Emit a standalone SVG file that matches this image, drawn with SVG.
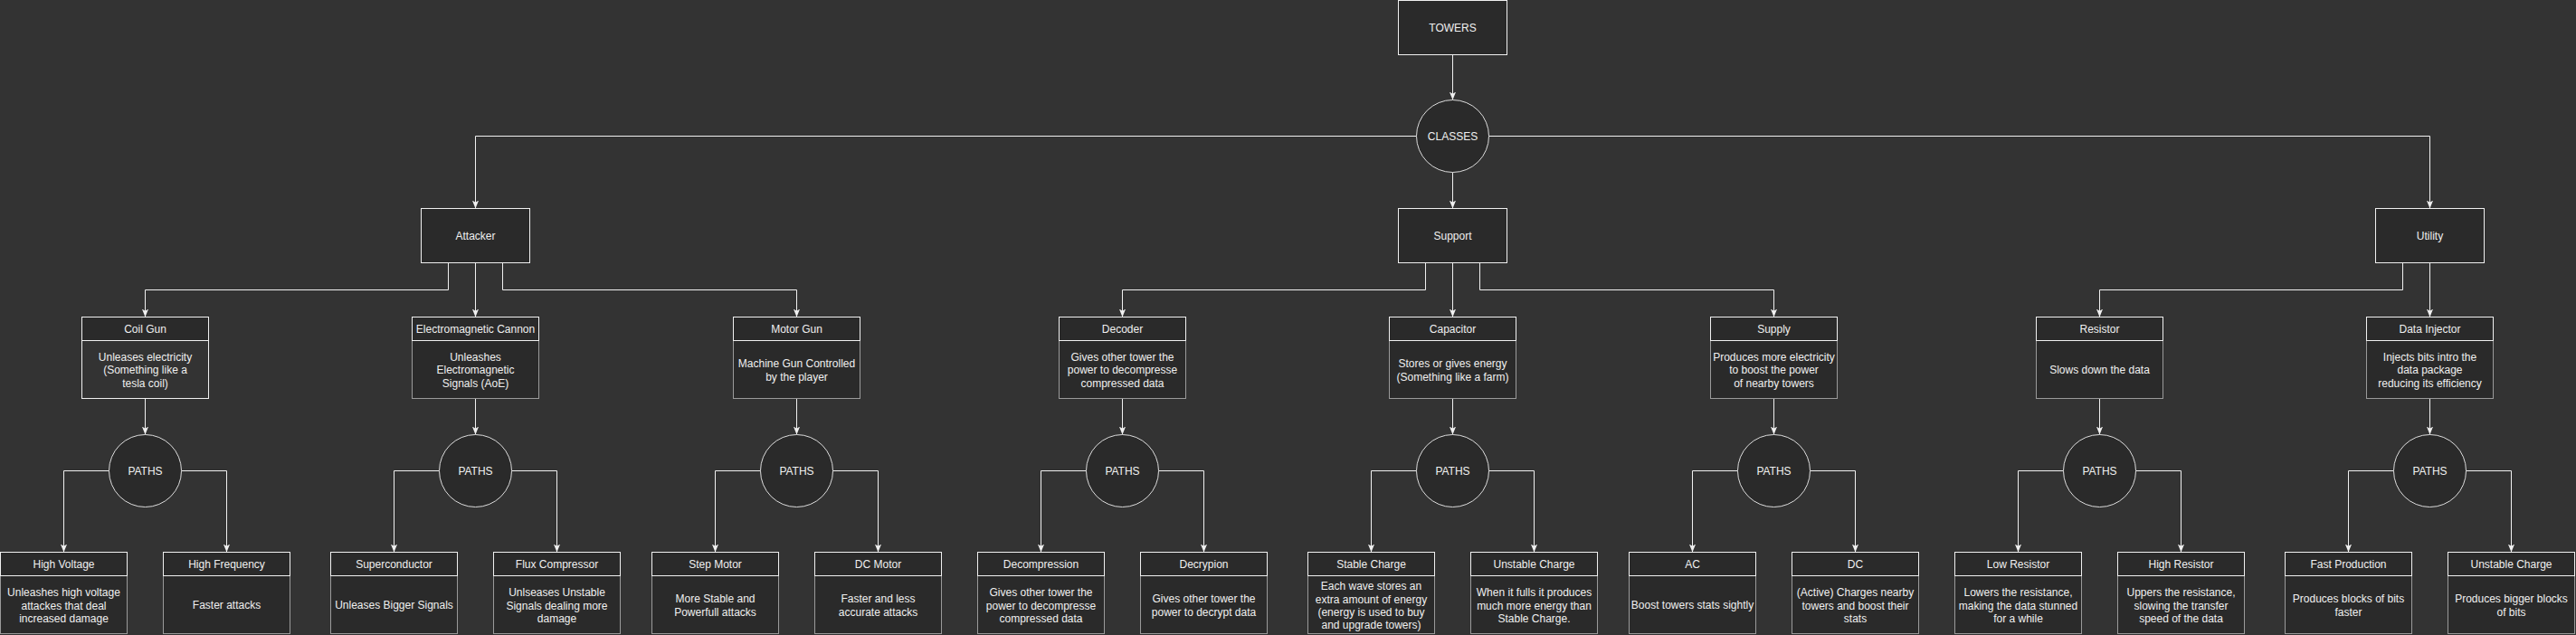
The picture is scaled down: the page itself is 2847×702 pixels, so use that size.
<svg xmlns="http://www.w3.org/2000/svg" width="2847" height="702" viewBox="0 0 2847 702">
<defs>
<style>
.bg{fill:#333333}
.box{fill:#2a2a2a;stroke:#f0f0f0;stroke-width:1}
.body{fill:#2a2a2a;stroke:#9a9a9a;stroke-width:1}
.bodyw{fill:#333333;stroke:#f0f0f0;stroke-width:1}
.circ{fill:#2a2a2a;stroke:#dcdcdc;stroke-width:1}
.t{font-family:"Liberation Sans",Arial,sans-serif;font-size:12px;fill:#f0f0f0;text-anchor:middle}
.e{fill:none;stroke:#f0f0f0;stroke-width:1;marker-end:url(#arr)}
.ln{fill:none;stroke:#f0f0f0;stroke-width:1}
</style>
<marker id="arr" viewBox="0 0 10 8" refX="10" refY="4" markerWidth="9" markerHeight="7.2" orient="auto" markerUnits="userSpaceOnUse">
<path d="M0,0 L10,4 L0,8 L2.5,4 z" fill="#f0f0f0"/>
</marker>
</defs>
<rect class="bg" x="0" y="0" width="2847" height="702"/>
<g transform="translate(0.5,0.5)">
<g id="connectors">
<path class="e" d="M1605,60 V110"/>
<path class="e" d="M1565,150 H525 V230"/>
<path class="e" d="M1605,190 V230"/>
<path class="e" d="M1645,150 H2685 V230"/>
<path class="e" d="M495,290 V320 H160 V350"/>
<path class="e" d="M525,290 V350"/>
<path class="e" d="M555,290 V320 H880 V350"/>
<path class="e" d="M1575,290 V320 H1240 V350"/>
<path class="e" d="M1605,290 V350"/>
<path class="e" d="M1635,290 V320 H1960 V350"/>
<path class="e" d="M2655,290 V320 H2320 V350"/>
<path class="e" d="M2685,290 V350"/>
<path class="e" d="M160,440 V480"/>
<path class="e" d="M525,440 V480"/>
<path class="e" d="M880,440 V480"/>
<path class="e" d="M1240,440 V480"/>
<path class="e" d="M1605,440 V480"/>
<path class="e" d="M1960,440 V480"/>
<path class="e" d="M2320,440 V480"/>
<path class="e" d="M2685,440 V480"/>
<path class="e" d="M120,520 H70 V610"/>
<path class="e" d="M200,520 H250 V610"/>
<path class="e" d="M485,520 H435 V610"/>
<path class="e" d="M565,520 H615 V610"/>
<path class="e" d="M840,520 H790 V610"/>
<path class="e" d="M920,520 H970 V610"/>
<path class="e" d="M1200,520 H1150 V610"/>
<path class="e" d="M1280,520 H1330 V610"/>
<path class="e" d="M1565,520 H1515 V610"/>
<path class="e" d="M1645,520 H1695 V610"/>
<path class="e" d="M1920,520 H1870 V610"/>
<path class="e" d="M2000,520 H2050 V610"/>
<path class="e" d="M2280,520 H2230 V610"/>
<path class="e" d="M2360,520 H2410 V610"/>
<path class="e" d="M2645,520 H2595 V610"/>
<path class="e" d="M2725,520 H2775 V610"/>
</g>

<g id="towers"><rect class="box" x="1545" y="0" width="120" height="60"/><text class="t" x="1605" y="34">TOWERS</text></g>
<g id="classes"><circle class="circ" cx="1605" cy="150" r="40"/><text class="t" x="1605" y="154">CLASSES</text></g>
<g id="attacker"><rect class="box" x="465" y="230" width="120" height="60"/><text class="t" x="525" y="264">Attacker</text></g>
<g id="support"><rect class="box" x="1545" y="230" width="120" height="60"/><text class="t" x="1605" y="264">Support</text></g>
<g id="utility"><rect class="box" x="2625" y="230" width="120" height="60"/><text class="t" x="2685" y="264">Utility</text></g>

<g id="coil-gun"><rect class="bodyw" x="90" y="350" width="140" height="90"/><rect class="box" x="90" y="350" width="140" height="26"/><text class="t" x="160" y="367">Coil Gun</text><text class="t"><tspan x="160" y="398">Unleases electricity</tspan><tspan x="160" y="412.5">(Something like a</tspan><tspan x="160" y="427">tesla coil)</tspan></text></g>
<g id="em-cannon"><rect class="body" x="455" y="350" width="140" height="90"/><rect class="box" x="455" y="350" width="140" height="26"/><text class="t" x="525" y="367">Electromagnetic Cannon</text><text class="t"><tspan x="525" y="398">Unleashes</tspan><tspan x="525" y="412.5">Electromagnetic</tspan><tspan x="525" y="427">Signals (AoE)</tspan></text></g>
<g id="motor-gun"><rect class="body" x="810" y="350" width="140" height="90"/><rect class="box" x="810" y="350" width="140" height="26"/><text class="t" x="880" y="367">Motor Gun</text><text class="t"><tspan x="880" y="405.5">Machine Gun Controlled</tspan><tspan x="880" y="420">by the player</tspan></text></g>
<g id="decoder"><rect class="body" x="1170" y="350" width="140" height="90"/><rect class="box" x="1170" y="350" width="140" height="26"/><text class="t" x="1240" y="367">Decoder</text><text class="t"><tspan x="1240" y="398">Gives other tower the</tspan><tspan x="1240" y="412.5">power to decompresse</tspan><tspan x="1240" y="427">compressed data</tspan></text></g>
<g id="capacitor"><rect class="body" x="1535" y="350" width="140" height="90"/><rect class="box" x="1535" y="350" width="140" height="26"/><text class="t" x="1605" y="367">Capacitor</text><text class="t"><tspan x="1605" y="405.5">Stores or gives energy</tspan><tspan x="1605" y="420">(Something like a farm)</tspan></text></g>
<g id="supply"><rect class="body" x="1890" y="350" width="140" height="90"/><rect class="box" x="1890" y="350" width="140" height="26"/><text class="t" x="1960" y="367">Supply</text><text class="t"><tspan x="1960" y="398">Produces more electricity</tspan><tspan x="1960" y="412.5">to boost the power</tspan><tspan x="1960" y="427">of nearby towers</tspan></text></g>
<g id="resistor"><rect class="body" x="2250" y="350" width="140" height="90"/><rect class="box" x="2250" y="350" width="140" height="26"/><text class="t" x="2320" y="367">Resistor</text><text class="t" x="2320" y="412.5">Slows down the data</text></g>
<g id="data-injector"><rect class="body" x="2615" y="350" width="140" height="90"/><rect class="box" x="2615" y="350" width="140" height="26"/><text class="t" x="2685" y="367">Data Injector</text><text class="t"><tspan x="2685" y="398">Injects bits intro the</tspan><tspan x="2685" y="412.5">data package</tspan><tspan x="2685" y="427">reducing its efficiency</tspan></text></g>

<g id="paths-coil"><circle class="circ" cx="160" cy="520" r="40"/><text class="t" x="160" y="524">PATHS</text></g>
<g id="paths-em"><circle class="circ" cx="525" cy="520" r="40"/><text class="t" x="525" y="524">PATHS</text></g>
<g id="paths-motor"><circle class="circ" cx="880" cy="520" r="40"/><text class="t" x="880" y="524">PATHS</text></g>
<g id="paths-decoder"><circle class="circ" cx="1240" cy="520" r="40"/><text class="t" x="1240" y="524">PATHS</text></g>
<g id="paths-capacitor"><circle class="circ" cx="1605" cy="520" r="40"/><text class="t" x="1605" y="524">PATHS</text></g>
<g id="paths-supply"><circle class="circ" cx="1960" cy="520" r="40"/><text class="t" x="1960" y="524">PATHS</text></g>
<g id="paths-resistor"><circle class="circ" cx="2320" cy="520" r="40"/><text class="t" x="2320" y="524">PATHS</text></g>
<g id="paths-injector"><circle class="circ" cx="2685" cy="520" r="40"/><text class="t" x="2685" y="524">PATHS</text></g>

<g id="high-voltage"><rect class="body" x="0" y="610" width="140" height="90"/><rect class="box" x="0" y="610" width="140" height="26"/><text class="t" x="70" y="627">High Voltage</text><text class="t"><tspan x="70" y="658.5">Unleashes high voltage</tspan><tspan x="70" y="673">attackes that deal</tspan><tspan x="70" y="687.5">increased damage</tspan></text></g>
<g id="high-frequency"><rect class="body" x="180" y="610" width="140" height="90"/><rect class="box" x="180" y="610" width="140" height="26"/><text class="t" x="250" y="627">High Frequency</text><text class="t" x="250" y="672.5">Faster attacks</text></g>
<g id="superconductor"><rect class="body" x="365" y="610" width="140" height="90"/><rect class="box" x="365" y="610" width="140" height="26"/><text class="t" x="435" y="627">Superconductor</text><text class="t" x="435" y="672.5">Unleases Bigger Signals</text></g>
<g id="flux-compressor"><rect class="body" x="545" y="610" width="140" height="90"/><rect class="box" x="545" y="610" width="140" height="26"/><text class="t" x="615" y="627">Flux Compressor</text><text class="t"><tspan x="615" y="658.5">Unlseases Unstable</tspan><tspan x="615" y="673">Signals dealing more</tspan><tspan x="615" y="687.5">damage</tspan></text></g>
<g id="step-motor"><rect class="body" x="720" y="610" width="140" height="90"/><rect class="box" x="720" y="610" width="140" height="26"/><text class="t" x="790" y="627">Step Motor</text><text class="t"><tspan x="790" y="665.5">More Stable and</tspan><tspan x="790" y="680">Powerfull attacks</tspan></text></g>
<g id="dc-motor"><rect class="body" x="900" y="610" width="140" height="90"/><rect class="box" x="900" y="610" width="140" height="26"/><text class="t" x="970" y="627">DC Motor</text><text class="t"><tspan x="970" y="665.5">Faster and less</tspan><tspan x="970" y="680">accurate attacks</tspan></text></g>
<g id="decompression"><rect class="body" x="1080" y="610" width="140" height="90"/><rect class="box" x="1080" y="610" width="140" height="26"/><text class="t" x="1150" y="627">Decompression</text><text class="t"><tspan x="1150" y="658.5">Gives other tower the</tspan><tspan x="1150" y="673">power to decompresse</tspan><tspan x="1150" y="687.5">compressed data</tspan></text></g>
<g id="decrypion"><rect class="body" x="1260" y="610" width="140" height="90"/><rect class="box" x="1260" y="610" width="140" height="26"/><text class="t" x="1330" y="627">Decrypion</text><text class="t"><tspan x="1330" y="665.5">Gives other tower the</tspan><tspan x="1330" y="680">power to decrypt data</tspan></text></g>
<g id="stable-charge"><rect class="body" x="1445" y="610" width="140" height="90"/><rect class="box" x="1445" y="610" width="140" height="26"/><text class="t" x="1515" y="627">Stable Charge</text><text class="t"><tspan x="1515" y="651.5">Each wave stores an</tspan><tspan x="1515" y="666">extra amount of energy</tspan><tspan x="1515" y="680">(energy is used to buy</tspan><tspan x="1515" y="694">and upgrade towers)</tspan></text></g>
<g id="unstable-charge"><rect class="body" x="1625" y="610" width="140" height="90"/><rect class="box" x="1625" y="610" width="140" height="26"/><text class="t" x="1695" y="627">Unstable Charge</text><text class="t"><tspan x="1695" y="658.5">When it fulls it produces</tspan><tspan x="1695" y="673">much more energy than</tspan><tspan x="1695" y="687.5">Stable Charge.</tspan></text></g>
<g id="ac"><rect class="body" x="1800" y="610" width="140" height="90"/><rect class="box" x="1800" y="610" width="140" height="26"/><text class="t" x="1870" y="627">AC</text><text class="t" x="1870" y="672.5">Boost towers stats sightly</text></g>
<g id="dc"><rect class="body" x="1980" y="610" width="140" height="90"/><rect class="box" x="1980" y="610" width="140" height="26"/><text class="t" x="2050" y="627">DC</text><text class="t"><tspan x="2050" y="658.5">(Active) Charges nearby</tspan><tspan x="2050" y="673">towers and boost their</tspan><tspan x="2050" y="687.5">stats</tspan></text></g>
<g id="low-resistor"><rect class="body" x="2160" y="610" width="140" height="90"/><rect class="box" x="2160" y="610" width="140" height="26"/><text class="t" x="2230" y="627">Low Resistor</text><text class="t"><tspan x="2230" y="658.5">Lowers the resistance,</tspan><tspan x="2230" y="673">making the data stunned</tspan><tspan x="2230" y="687.5">for a while</tspan></text></g>
<g id="high-resistor"><rect class="body" x="2340" y="610" width="140" height="90"/><rect class="box" x="2340" y="610" width="140" height="26"/><text class="t" x="2410" y="627">High Resistor</text><text class="t"><tspan x="2410" y="658.5">Uppers the resistance,</tspan><tspan x="2410" y="673">slowing the transfer</tspan><tspan x="2410" y="687.5">speed of the data</tspan></text></g>
<g id="fast-production"><rect class="body" x="2525" y="610" width="140" height="90"/><rect class="box" x="2525" y="610" width="140" height="26"/><text class="t" x="2595" y="627">Fast Production</text><text class="t"><tspan x="2595" y="665.5">Produces blocks of bits</tspan><tspan x="2595" y="680">faster</tspan></text></g>
<g id="unstable-charge-2"><rect class="body" x="2705" y="610" width="140" height="90"/><rect class="box" x="2705" y="610" width="140" height="26"/><text class="t" x="2775" y="627">Unstable Charge</text><text class="t"><tspan x="2775" y="665.5">Produces bigger blocks</tspan><tspan x="2775" y="680">of bits</tspan></text></g>
</g>
</svg>
